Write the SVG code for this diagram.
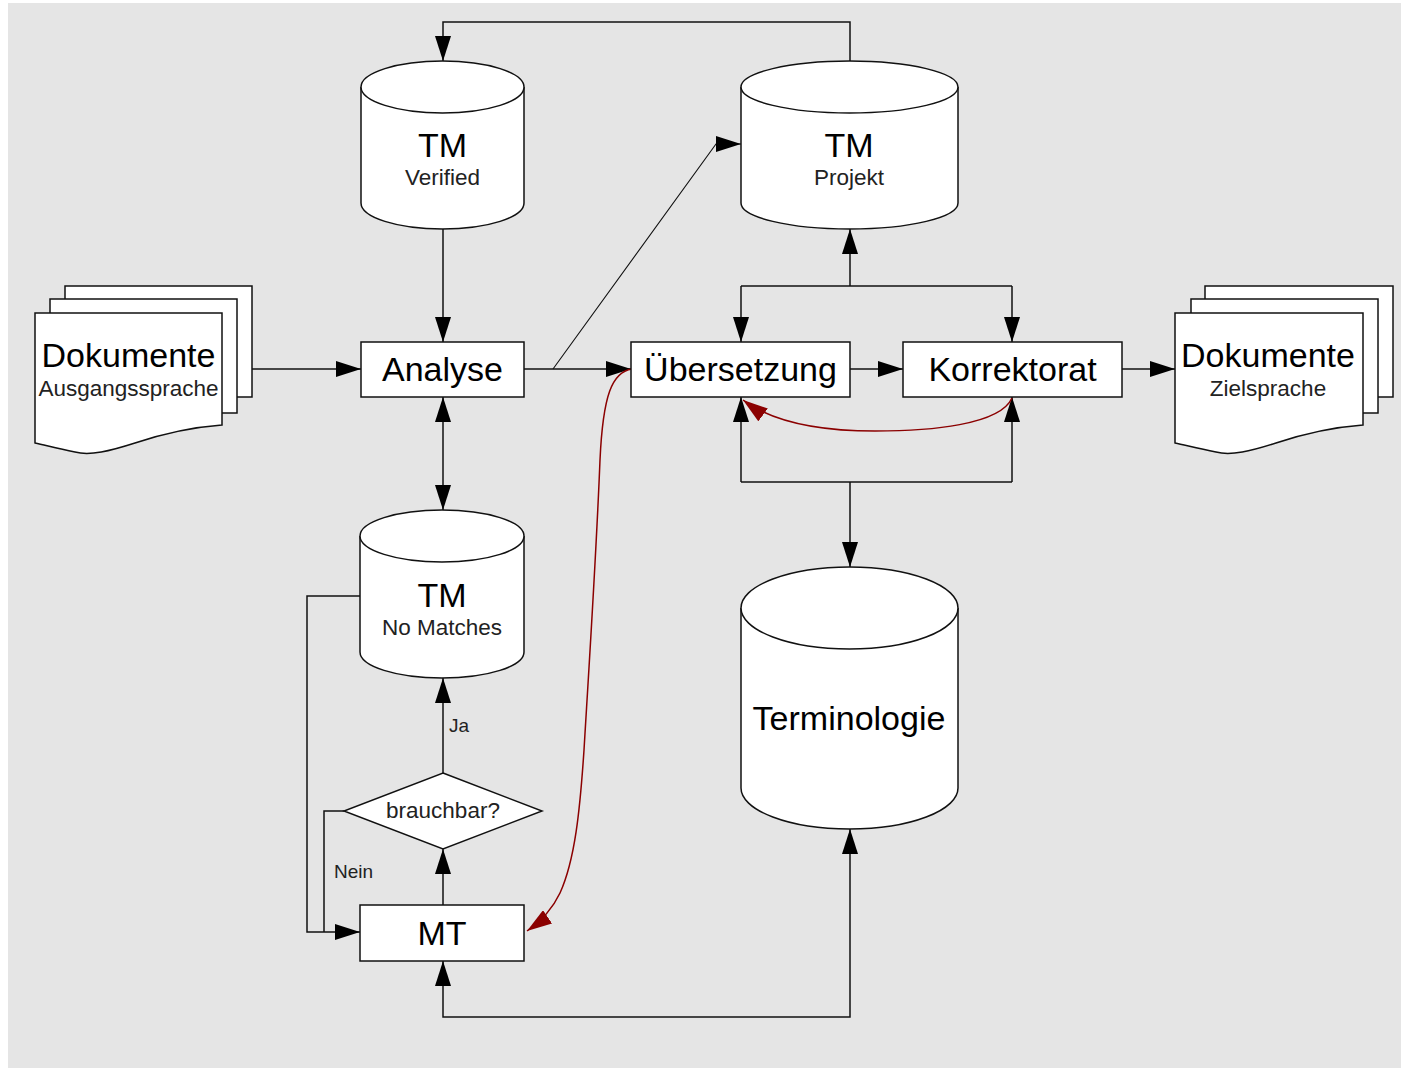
<svg xmlns="http://www.w3.org/2000/svg" width="1401" height="1068" viewBox="0 0 1401 1068">
<defs>
<style>
.shape{fill:#fff;stroke:#111;stroke-width:1.5}
.ln{fill:none;stroke:#111;stroke-width:1.5}
.red{fill:none;stroke:#8b0000;stroke-width:1.5}
.big{font-family:"Liberation Sans",Arial,sans-serif;font-size:34px;fill:#000;text-anchor:middle}
.sub{font-family:"Liberation Sans",Arial,sans-serif;font-size:22.5px;fill:#222;text-anchor:middle}
.lbl{font-family:"Liberation Sans",Arial,sans-serif;font-size:19px;fill:#222}
</style>
<marker id="ah" markerUnits="userSpaceOnUse" markerWidth="25" markerHeight="16" refX="25" refY="8" orient="auto-start-reverse" viewBox="0 0 25 16">
<path d="M0,0 L25,8 L0,16 Z" fill="#000"/>
</marker>
<marker id="ahr" markerUnits="userSpaceOnUse" markerWidth="25" markerHeight="16" refX="25" refY="8" orient="auto" viewBox="0 0 25 16">
<path d="M0,0 L25,8 L0,16 Z" fill="#8b0000"/>
</marker>
</defs>
<rect x="8" y="3" width="1393" height="1065" fill="#e5e5e5"/>

<g id="connectors">
<path class="ln" d="M252,369 H361" marker-end="url(#ah)"/>
<path class="ln" d="M524,369 H631" marker-end="url(#ah)"/>
<path class="ln" d="M553,369 L716,144 L741,144" marker-end="url(#ah)" style="stroke-width:1.1"/>
<path class="ln" d="M850,369 H903" marker-end="url(#ah)"/>
<path class="ln" d="M1122,369 H1175" marker-end="url(#ah)"/>
<path class="ln" d="M443,229 V342" marker-end="url(#ah)"/>
<path class="ln" d="M443,397 V510" marker-start="url(#ah)" marker-end="url(#ah)"/>
<path class="ln" d="M850,61 V22 H443 V61" marker-end="url(#ah)"/>
<path class="ln" d="M741,286 H1012"/>
<path class="ln" d="M741,286 V342" marker-end="url(#ah)"/>
<path class="ln" d="M1012,286 V342" marker-end="url(#ah)"/>
<path class="ln" d="M850,286 V229" marker-end="url(#ah)"/>
<path class="ln" d="M741,482 H1012"/>
<path class="ln" d="M741,482 V397" marker-end="url(#ah)"/>
<path class="ln" d="M1012,482 V397" marker-end="url(#ah)"/>
<path class="ln" d="M850,482 V567" marker-end="url(#ah)"/>
<path class="ln" d="M360,596 H307 V932 H360" marker-end="url(#ah)"/>
<path class="ln" d="M344,811 H324 V932"/>
<path class="ln" d="M443,773 V678" marker-end="url(#ah)"/>
<path class="ln" d="M443,905 V849" marker-end="url(#ah)"/>
<path class="ln" d="M443,961 V1017 H850 V829" marker-start="url(#ah)" marker-end="url(#ah)"/>
<path class="red" d="M1012,398 C1000,425 930,431 875,431 C815,431 770,420 743,400" marker-end="url(#ahr)"/>
<path class="red" d="M632,369 C612,372 603,395 600,460 C596,560 590,650 584,750 C580,810 575,860 560,893 C552,910 540,922 527,931" marker-end="url(#ahr)"/>
<text class="lbl" x="449" y="732">Ja</text>
<text class="lbl" x="334" y="878">Nein</text>
</g>

<g id="tm-verified">
<path class="shape" d="M361,87 V203 A81.5,26 0 0 0 524,203 V87 A81.5,26 0 0 0 361,87 Z"/>
<path class="shape" d="M361,87 A81.5,26 0 0 0 524,87" fill="none"/>
<text class="big" x="442.5" y="157">TM</text>
<text class="sub" x="442.5" y="185">Verified</text>
</g>

<g id="tm-projekt">
<path class="shape" d="M741,87 V203 A108.5,26 0 0 0 958,203 V87 A108.5,26 0 0 0 741,87 Z"/>
<path class="shape" d="M741,87 A108.5,26 0 0 0 958,87" fill="none"/>
<text class="big" x="849" y="157">TM</text>
<text class="sub" x="849" y="185">Projekt</text>
</g>

<g id="dokumente-ausgang">
<rect class="shape" x="65" y="286" width="187" height="111"/>
<rect class="shape" x="50" y="299" width="187" height="114"/>
<path class="shape" d="M35,313 H222 V425 C195,427 165,433 135,443 C110,451 90,456 75,452 C55,448 45,445 35,443 Z"/>
<text class="big" x="128.5" y="367">Dokumente</text>
<text class="sub" x="128.5" y="396">Ausgangssprache</text>
</g>

<g id="analyse">
<rect class="shape" x="361" y="342" width="163" height="55"/>
<text class="big" x="442.5" y="381">Analyse</text>
</g>

<g id="uebersetzung">
<rect class="shape" x="631" y="342" width="219" height="55"/>
<text class="big" x="740.5" y="381">Übersetzung</text>
</g>

<g id="korrektorat">
<rect class="shape" x="903" y="342" width="219" height="55"/>
<text class="big" x="1012.5" y="381">Korrektorat</text>
</g>

<g id="dokumente-ziel">
<rect class="shape" x="1205" y="286" width="188" height="111"/>
<rect class="shape" x="1191" y="299" width="187" height="114"/>
<path class="shape" d="M1175,313 H1363 V425 C1336,427 1306,433 1276,443 C1251,451 1231,456 1216,452 C1196,448 1185,445 1175,443 Z"/>
<text class="big" x="1268" y="367">Dokumente</text>
<text class="sub" x="1268" y="396">Zielsprache</text>
</g>

<g id="tm-no-matches">
<path class="shape" d="M360,536 V652 A82,26 0 0 0 524,652 V536 A82,26 0 0 0 360,536 Z"/>
<path class="shape" d="M360,536 A82,26 0 0 0 524,536" fill="none"/>
<text class="big" x="442" y="607">TM</text>
<text class="sub" x="442" y="635">No Matches</text>
</g>

<g id="brauchbar">
<polygon class="shape" points="443,773 542,811 443,849 344,811"/>
<text class="sub" x="443" y="818">brauchbar?</text>
</g>

<g id="mt">
<rect class="shape" x="360" y="905" width="164" height="56"/>
<text class="big" x="442" y="945">MT</text>
</g>

<g id="terminologie">
<path class="shape" d="M741,608 V788 A108.5,41 0 0 0 958,788 V608 A108.5,41 0 0 0 741,608 Z"/>
<path class="shape" d="M741,608 A108.5,41 0 0 0 958,608" fill="none"/>
<text class="big" x="849" y="730">Terminologie</text>
</g>
</svg>
